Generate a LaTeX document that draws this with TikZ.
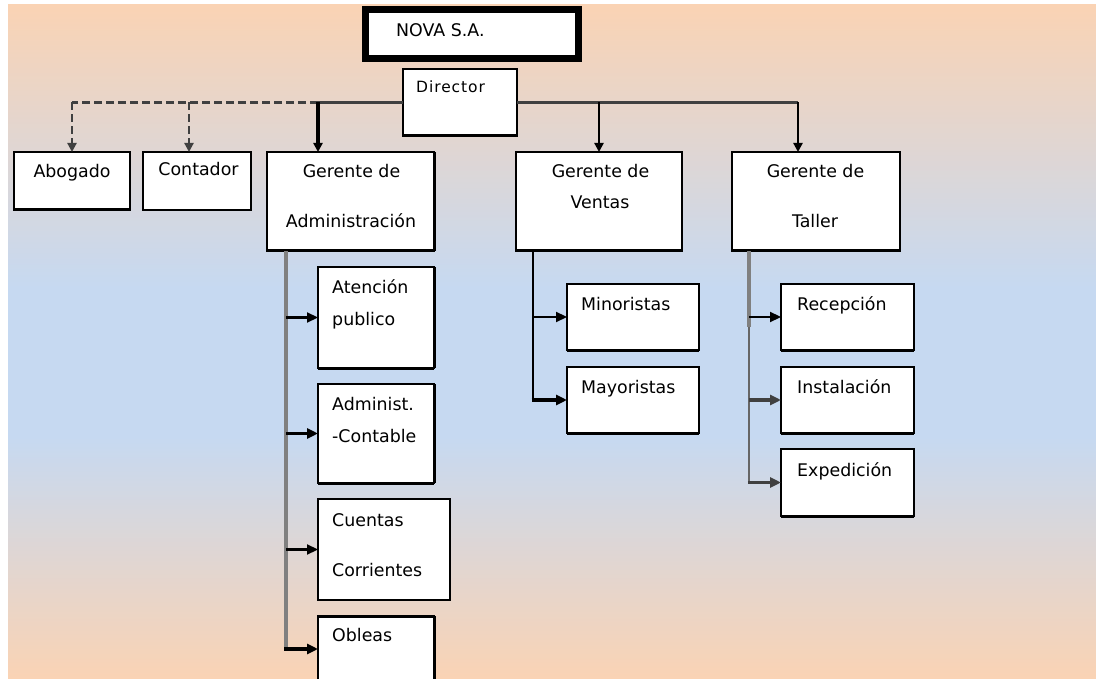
\documentclass[tikz,border=0pt]{standalone}
\usepackage{fontspec}
\setmainfont{DejaVu Sans}
\newfontfamily\dirfont[LetterSpace=6]{DejaVu Sans}
\usetikzlibrary{arrows.meta}
\definecolor{peach}{HTML}{FAD3B4}
\definecolor{sky}{HTML}{C6D9F1}
\definecolor{bus}{HTML}{404040}
\definecolor{bar}{HTML}{808080}
% vertical background: peach at top and bottom, light blue band in the middle
\pgfdeclareverticalshading{orgbg}{100bp}{color(0bp)=(peach); color(25bp)=(peach); color(43bp)=(sky); color(54bp)=(sky); color(75bp)=(peach); color(100bp)=(peach)}

\begin{document}
\begin{tikzpicture}[x=1pt,y=-1pt,
  box/.style={draw=black, fill=white, line width=1.6pt, inner sep=0pt, outer sep=0pt},
  lbl/.style={inner sep=0pt, font=\fontsize{17.4}{20}\selectfont},
  edge/.style={line width=3pt},
  tip/.style={-{Triangle[length=9pt,width=9pt]}},
  bigtip/.style={-{Triangle[length=11pt,width=10pt]}},
  busline/.style={draw=bus, line width=2.2pt},
  dashline/.style={draw=bus, line width=2.2pt, dash pattern=on 8pt off 4pt},
  branch/.style={line width=2.2pt, bigtip}]
\useasboundingbox (0,0) rectangle (1096,679);
\clip (0,0) rectangle (1096,679);
\fill[white] (0,0) rectangle (1096,679);
\shade[shading=orgbg] (8,5) rectangle (1096,679);

% ---- boxes ----
\node[box, line width=7pt, minimum width=213pt, minimum height=49pt] (nova) at (472,34) {};
\node[box, minimum width=114pt, minimum height=67pt] (dir)  at (460,102.5) {};
\node[box, minimum width=116pt, minimum height=58pt] (abog) at (72,181) {};
\node[box, minimum width=108pt, minimum height=58pt] (cont) at (197,181) {};
\node[box, minimum width=167pt, minimum height=99pt] (gadm) at (350.5,201.5) {};
\node[box, minimum width=166pt, minimum height=99pt] (gven) at (599,201.5) {};
\node[box, minimum width=168pt, minimum height=99pt] (gtal) at (816,201.5) {};
\node[box, minimum width=116pt, minimum height=101pt] (aten) at (376,317.5) {};
\node[box, minimum width=116pt, minimum height=99pt] (admc) at (376,433.5) {};
\node[box, minimum width=132pt, minimum height=101pt] (cuen) at (384,549.5) {};
\node[box, minimum width=116pt, minimum height=66pt] (obl)  at (376,649) {};
\node[box, minimum width=132pt, minimum height=66pt] (mino) at (633,317) {};
\node[box, minimum width=132pt, minimum height=66pt] (mayo) at (633,400) {};
\node[box, minimum width=133pt, minimum height=66pt] (rece) at (847.5,317) {};
\node[box, minimum width=133pt, minimum height=66pt] (inst) at (847.5,400) {};
\node[box, minimum width=133pt, minimum height=67pt] (expe) at (847.5,482.5) {};

% heavier lower and right edges
\foreach \n in {dir,abog,gadm,gven,gtal,aten,admc,mino,mayo,rece,inst,expe}
  \draw[edge] (\n.south west) -- (\n.south east);
\foreach \n in {gadm,aten,admc,obl}
  \draw[edge] (\n.north east) -- (\n.south east);
\draw[edge] (obl.north west) -- (obl.north east);

% ---- texts ----
\node[lbl, anchor=base west] (nova-t) at (396,37) {NOVA S.A.};
\node[inner sep=0pt, font=\dirfont\fontsize{15.5}{18}\selectfont, anchor=base west] (dir-t) at (416,93) {Director};
\node[lbl, anchor=base] (abog-t) at (72,178) {Abogado};
\node[lbl, anchor=base] (cont-t) at (198.5,176) {Contador};
\node[lbl, anchor=base] (gadm-t1) at (351.5,178) {Gerente de};
\node[lbl, anchor=base] (gadm-t2) at (351,228) {Administración};
\node[lbl, anchor=base] (gven-t1) at (600.5,178) {Gerente de};
\node[lbl, anchor=base] (gven-t2) at (600,209) {Ventas};
\node[lbl, anchor=base] (gtal-t1) at (815.5,178) {Gerente de};
\node[lbl, anchor=base] (gtal-t2) at (815,228) {Taller};
\node[lbl, anchor=base west] (aten-t1) at (332,294) {Atención};
\node[lbl, anchor=base west] (aten-t2) at (332,326) {publico};
\node[lbl, anchor=base west] (admc-t1) at (332,410) {Administ.};
\node[lbl, anchor=base west] (admc-t2) at (332,442) {-Contable};
\node[lbl, anchor=base west] (cuen-t1) at (332,526) {Cuentas};
\node[lbl, anchor=base west] (cuen-t2) at (332,576) {Corrientes};
\node[lbl, anchor=base west] (obl-t)  at (332,641) {Obleas};
\node[lbl, anchor=base west] (mino-t) at (581,311) {Minoristas};
\node[lbl, anchor=base west] (mayo-t) at (581,393) {Mayoristas};
\node[lbl, anchor=base west] (rece-t) at (797,311) {Recepción};
\node[lbl, anchor=base west] (inst-t) at (797,393) {Instalación};
\node[lbl, anchor=base west] (expe-t) at (797,476) {Expedición};

% ---- director's bus ----
\coordinate (gT) at ([xshift=-32.5pt]gadm.north);
\coordinate (jA) at (gT |- dir.west);
\coordinate (jB) at (abog.north |- dir.west);
\coordinate (cT) at ([xshift=-8pt]cont.north);
\coordinate (jC) at (cT |- dir.west);
\coordinate (jV) at (gven.north |- dir.west);
\coordinate (tT) at ([xshift=-18pt]gtal.north);
\coordinate (jT) at (tT |- dir.west);

\draw[busline] (dir.west) -- (jA);
\draw[dashline] (jA) -- (jB);
\draw[dashline, tip] (jB) -- (abog.north);
\draw[dashline, tip] (jC) -- (cT);
\draw[line width=3.2pt, tip] (jA) -- (gT);
\draw[busline] (dir.east) -- (jT);
\draw[line width=2.4pt, tip] (jV) -- (gven.north);
\draw[line width=2.4pt, tip] (jT) -- (tT);

% ---- administration branch ----
\coordinate (aT) at ([xshift=19pt]gadm.south west);
\draw[draw=bar, line width=3.2pt] (aT) -- (aT |- obl.west);
\draw[branch] (aT |- aten.west) -- (aten.west);
\draw[branch, line width=3.2pt] (aT |- admc.west) -- (admc.west);
\draw[branch] (aT |- cuen.west) -- (cuen.west);
\draw[branch, line width=3.2pt] ([xshift=-1.6pt]aT |- obl.west) -- (obl.west);

% ---- sales branch ----
\coordinate (vT) at ([xshift=17pt]gven.south west);
\draw[line width=2.8pt] (vT) -- ([yshift=-1.5pt]vT |- mayo.west);
\draw[branch] (vT |- mino.west) -- (mino.west);
\draw[branch, line width=4pt] ([xshift=-1.4pt]vT |- mayo.west) -- (mayo.west);

% ---- workshop branch ----
\coordinate (wT) at ([xshift=17pt]gtal.south west);
\coordinate (wM) at ([yshift=-76pt]wT);
\draw[draw=bus!80, line width=2.4pt] (wT) -- (wT |- expe.west);
\draw[draw=bar, line width=3.8pt] (wT) -- (wM);
\draw[branch] (wT |- rece.west) -- (rece.west);
\draw[branch, draw=bus, line width=3.8pt] (wT |- inst.west) -- (inst.west);
\draw[branch, draw=bus, line width=3.2pt] ([xshift=-1.2pt]wT |- expe.west) -- (expe.west);
\end{tikzpicture}
\end{document}
